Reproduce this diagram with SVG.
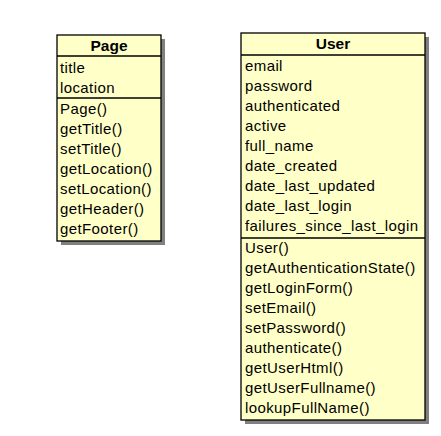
<svg xmlns="http://www.w3.org/2000/svg" width="441" height="436" viewBox="0 0 441 436">
<style>
.shadow{fill:#808080}
.box{fill:#ffffc8;stroke:#000;stroke-width:1.3}
.sep{stroke:#000;stroke-width:1.3}
.t{font-family:"Liberation Sans",Arial,sans-serif;font-size:15px;letter-spacing:0.4px;fill:#000}
.h{font-family:"Liberation Sans",Arial,sans-serif;font-size:15.5px;font-weight:bold;fill:#000;text-anchor:middle}
</style>
<rect width="441" height="436" fill="#fff"/>
<g id="Page">
<rect class="shadow" x="61" y="39" width="104" height="206"/>
<rect class="box" x="57" y="35" width="104" height="206"/>
<line class="sep" x1="57" y1="56" x2="161" y2="56"/>
<line class="sep" x1="57" y1="98" x2="161" y2="98"/>
<text class="h" x="109" y="51">Page</text>
<text class="t" x="60" y="73">title</text>
<text class="t" x="60" y="93">location</text>
<text class="t" x="60" y="114">Page()</text>
<text class="t" x="60" y="134">getTitle()</text>
<text class="t" x="60" y="154">setTitle()</text>
<text class="t" x="60" y="174">getLocation()</text>
<text class="t" x="60" y="194">setLocation()</text>
<text class="t" x="60" y="214">getHeader()</text>
<text class="t" x="60" y="234">getFooter()</text>
</g>
<g id="User">
<rect class="shadow" x="245" y="37" width="184" height="387"/>
<rect class="box" x="241" y="33" width="184" height="387"/>
<line class="sep" x1="241" y1="55" x2="425" y2="55"/>
<line class="sep" x1="241" y1="238" x2="425" y2="238"/>
<text class="h" x="333" y="49">User</text>
<text class="t" x="245" y="71">email</text>
<text class="t" x="245" y="91">password</text>
<text class="t" x="245" y="111">authenticated</text>
<text class="t" x="245" y="131">active</text>
<text class="t" x="245" y="151">full_name</text>
<text class="t" x="245" y="171">date_created</text>
<text class="t" x="245" y="191">date_last_updated</text>
<text class="t" x="245" y="211">date_last_login</text>
<text class="t" x="245" y="231">failures_since_last_login</text>
<text class="t" x="245" y="253">User()</text>
<text class="t" x="245" y="273">getAuthenticationState()</text>
<text class="t" x="245" y="293">getLoginForm()</text>
<text class="t" x="245" y="313">setEmail()</text>
<text class="t" x="245" y="333">setPassword()</text>
<text class="t" x="245" y="353">authenticate()</text>
<text class="t" x="245" y="373">getUserHtml()</text>
<text class="t" x="245" y="393">getUserFullname()</text>
<text class="t" x="245" y="413">lookupFullName()</text>
</g>
<g id="connectors"></g>
</svg>
